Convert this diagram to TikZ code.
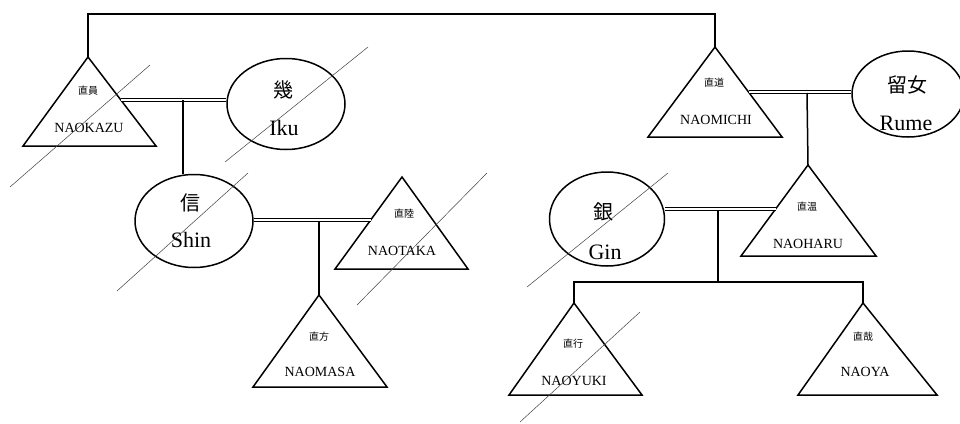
\documentclass[tikz,border=0pt]{standalone}
\usepackage{fontspec}
\setmainfont{Liberation Serif}
\newfontfamily\cjk{Noto Sans CJK JP}
\usetikzlibrary{shapes.geometric}
\begin{document}
\begin{tikzpicture}[x=1pt,y=-1pt,
  tri/.style={line width=1.5pt, line join=miter},
  person/.style={ellipse, draw, line width=1.5pt, inner sep=0pt},
  link/.style={line width=1.5pt},
  marriage/.style={double, line width=1pt, double distance=1.8pt},
  dead/.style={line width=0.5pt, black!75},
  kt/.style={font=\cjk\fontsize{10}{10}\selectfont, inner sep=0pt},
  kc/.style={font=\cjk\fontsize{20}{20}\selectfont, inner sep=0pt},
  nt/.style={font=\fontsize{14}{14}\selectfont, inner sep=0pt},
  nc/.style={font=\fontsize{22}{22}\selectfont, inner sep=0pt}]
\useasboundingbox (0,0) rectangle (960,423);

% triangles (males)
\coordinate (kazu) at (88,57);
\draw[tri] (kazu) -- (156,146) -- (23,146) -- cycle;
\coordinate (kazuR) at (121,100);
\node[kt] (kazuk) at (88,91) {直員};
\node[nt] (kazun) at (89,128) {NAOKAZU};

\coordinate (taka) at (402,177);
\draw[tri] (taka) -- (468,269) -- (335,269) -- cycle;
\coordinate (takaL) at (371,220);
\node[kt] (takak) at (404,214) {直陸};
\node[nt] (takan) at (402,251) {NAOTAKA};

\coordinate (masa) at (319,295);
\draw[tri] (masa) -- (387,387) -- (253,387) -- cycle;
\node[kt] (masak) at (319,337) {直方};
\node[nt] (masan) at (320,372) {NAOMASA};

\coordinate (michi) at (715,47);
\draw[tri] (michi) -- (782,137) -- (648,137) -- cycle;
\coordinate (michiR) at (749,92);
\node[kt] (michik) at (714,83) {直道};
\node[nt] (michin) at (716,120) {NAOMICHI};

\coordinate (haru) at (808,165);
\draw[tri] (haru) -- (876,256) -- (741,256) -- cycle;
\coordinate (haruL) at (776,209);
\node[kt] (haruk) at (807,207) {直温};
\node[nt] (harun) at (808,244) {NAOHARU};

\coordinate (yuki) at (574,303);
\draw[tri] (yuki) -- (642,395) -- (509,395) -- cycle;
\node[kt] (yukik) at (573,344) {直行};
\node[nt] (yukin) at (574,381) {NAOYUKI};

\coordinate (naoya) at (863,303);
\draw[tri] (naoya) -- (937,395) -- (798,395) -- cycle;
\node[kt] (naoyak) at (863,337) {直哉};
\node[nt] (naoyan) at (865,372) {NAOYA};

% circles (females)
\node[person, minimum width=118pt, minimum height=91pt] (iku) at (286,104) {};
\node[kc] (ikuk) at (283,90) {幾};
\node[nc] (ikun) at (284,128) {Iku};

\node[person, minimum width=118pt, minimum height=93pt] (shin) at (194,221) {};
\node[kc] (shink) at (190,203) {信};
\node[nc] (shinn) at (191,240) {Shin};

\node[person, minimum width=115pt, minimum height=94pt] (gin) at (607,219) {};
\node[kc] (gink) at (603,212) {銀};
\node[nc] (ginn) at (605,252) {Gin};

\node[person, minimum width=112pt, minimum height=86pt] (rume) at (908,94) {};
\node[kc] (rumek) at (907,85) {留女};
\node[nc] (rumen) at (906,123) {Rume};

% sibling line on top
\draw[link] (kazu) -- (88,14) -| (michi);

% marriages
\draw[marriage] (kazuR) -- (iku.west |- kazuR);
\coordinate (m1) at (183,100);
\draw[link] (m1) -- (shin.north -| m1);

\draw[marriage] (shin.east |- takaL) -- (takaL);
\coordinate (m2) at (319,221);
\draw[link] (m2) -- (masa);

\draw[marriage] (michiR) -- (rume.west |- michiR);
\coordinate (m3) at (807,93);
\draw[link] (m3) -- (haru);

\draw[marriage] (gin.east |- haruL) -- (haruL);
\coordinate (m4) at (718,210);
\coordinate (sib) at (718,282);
\draw[link] (m4) -- (sib);
\draw[link] (yuki) -- (yuki |- sib) -- (naoya |- sib) -- (naoya);

% death marks
\draw[dead] (10,187) -- (150,65);
\draw[dead] (225,162) -- (368,47);
\draw[dead] (117,291) -- (248,173);
\draw[dead] (357,305) -- (487,173);
\draw[dead] (527,287) -- (668,173);
\draw[dead] (520,422) -- (640,312);
\end{tikzpicture}
\end{document}
